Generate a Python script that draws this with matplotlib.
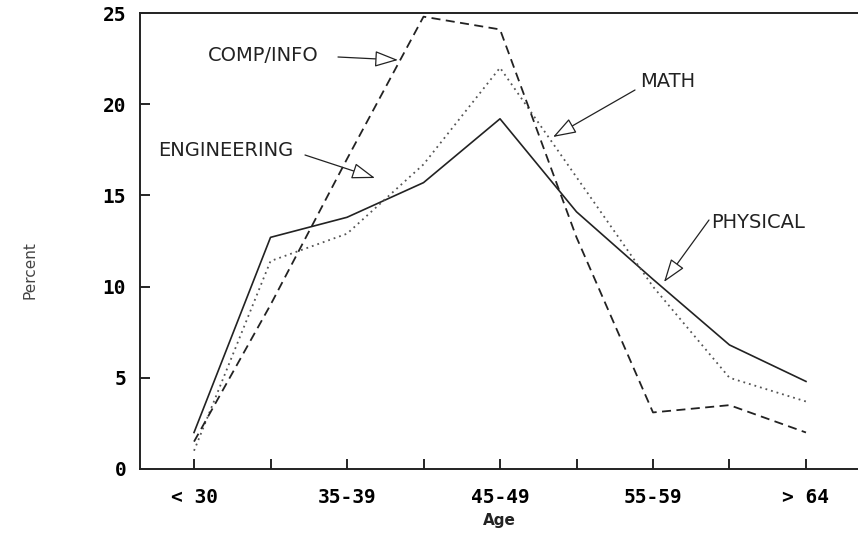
import matplotlib
matplotlib.use("Agg")
import matplotlib.pyplot as plt

# age groups (only every other one gets a label)
age_groups = ["< 30", "30-34", "35-39", "40-44", "45-49", "50-54", "55-59", "60-64", "> 64"]
tick_labels = ["< 30", "", "35-39", "", "45-49", "", "55-59", "", "> 64"]

physical = [2.0, 12.7, 13.8, 15.7, 19.2, 14.1, 10.4, 6.8, 4.8]
math_sci = [1.0, 11.4, 12.9, 16.7, 22.0, 16.0, 10.0, 5.0, 3.7]
comp_info = [1.5, 9.0, 17.0, 24.8, 24.1, 12.7, 3.1, 3.5, 2.0]

fig = plt.figure(figsize=(8.58, 5.38), dpi=100)
ax = fig.add_axes([0.1632, 0.1283, 0.8368, 0.8475])

x = list(range(len(age_groups)))
ax.plot(x, physical, color="#222222", lw=1.2, ls="-")
ax.plot(x, math_sci, color="#555555", lw=1.3, ls=(0, (1, 2.2)))
ax.plot(x, comp_info, color="#222222", lw=1.3, ls=(0, (5, 3)))

ax.set_xlim(-0.706, 8.68)
ax.set_ylim(0, 25)
ax.set_xticks(x)
ax.set_xticklabels(tick_labels, family="DejaVu Sans Mono", fontweight="bold", fontsize=14)
ax.set_yticks([0, 5, 10, 15, 20, 25])
ax.set_yticklabels(["0", "5", "10", "15", "20", "25"], family="DejaVu Sans Mono",
                   fontweight="bold", fontsize=14)
ax.tick_params(axis="x", direction="in", length=7, width=1.2, pad=14)
ax.tick_params(axis="y", direction="in", length=7, width=1.2, pad=10)
ax.spines["right"].set_visible(False)
for s in ["left", "top", "bottom"]:
    ax.spines[s].set_linewidth(1.4)
    ax.spines[s].set_color("#222222")

arrow = dict(arrowstyle="-|>,head_length=1.45,head_width=0.5", fc="white", ec="#222222",
             lw=0.9, shrinkA=0, shrinkB=0)
txt = dict(fontsize=14, color="#222222", va="center", ha="left")

def data_xy(px, py):
    # reference pixel position -> data coords, only used to place the labels/arrows
    inv = ax.transData.inverted()
    return inv.transform((px, 538 - py))

ax.annotate("COMP/INFO", xy=data_xy(208, 56), **txt)
ax.annotate("", xy=data_xy(398, 60), xytext=data_xy(338, 57), arrowprops=arrow)
ax.annotate("ENGINEERING", xy=data_xy(158, 150), **txt)
ax.annotate("", xy=data_xy(375, 178), xytext=data_xy(305, 155), arrowprops=arrow)
ax.annotate("MATH", xy=data_xy(640, 82), **txt)
ax.annotate("", xy=data_xy(553, 137), xytext=data_xy(635, 90), arrowprops=arrow)
ax.annotate("PHYSICAL", xy=data_xy(711, 222), **txt)
ax.annotate("", xy=data_xy(664, 282), xytext=data_xy(709, 220), arrowprops=arrow)

fig.text(0.5816, 1 - 520 / 538, "Age", ha="center", va="center", fontweight="bold",
         fontsize=11, color="#222222")
fig.text(30 / 858, 1 - 270 / 538, "Percent", ha="center", va="center", rotation=90,
         fontsize=11, color="#444444")

fig.savefig("out.png", dpi=100)
